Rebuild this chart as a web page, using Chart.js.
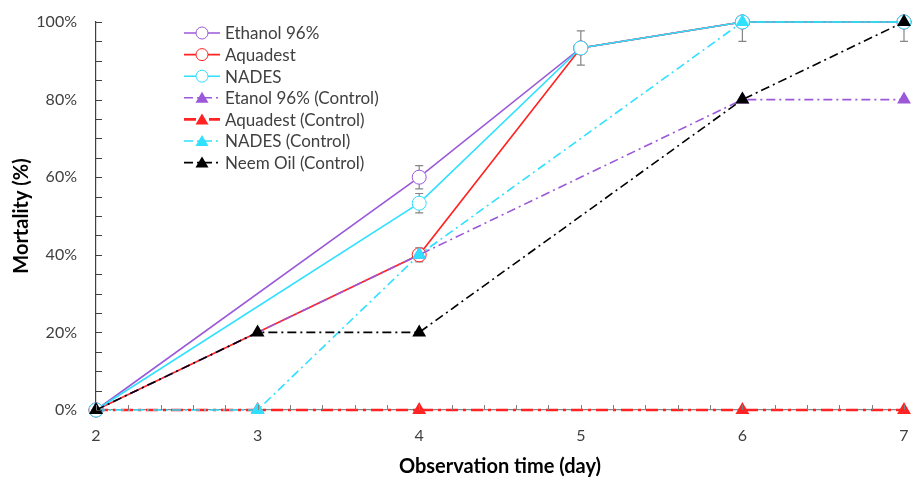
<!DOCTYPE html>
<html lang="en">
<head>
<meta charset="UTF-8">
<title>Mortality over observation time</title>
<script src="https://cdn.jsdelivr.net/npm/chart.js"></script>
<style>
  body { margin: 0; background: #fff; }
  .wrap { width: 912px; height: 479px; }
</style>
</head>
<body>
<div class="wrap"><canvas id="chart"></canvas></div>
<script>
// observation days and mortality (%) per treatment; null = no point that day
const days = [2, 3, 4, 5, 6, 7];
const ethanol = [0, null, 60, 93.3, 100, 100];
const aquadest = [0, null, 40, 93.3, 100, 100];
const nades = [0, null, 53.3, 93.3, 100, 100];
const ethanolCtrl = [0, null, 40, null, 80, 80];
const aquadestCtrl = [0, 0, 0, null, 0, 0];
const nadesCtrl = [0, 0, 40, null, 100, 100];
const neemCtrl = [0, 20, 20, null, 80, 100];
// error bars (± %)
const ethanolErr = [0, null, 3, 4.4, 0, 0];
const aquadestErr = [0, null, 1.8, 0, 0, 0];
const nadesErr = [0, null, 2.5, 0, 5, 5];
const yTicks = [0, 20, 40, 60, 80, 100];

const PURPLE = '#9b59d9', RED = '#ff2323', CYAN = '#2fe0ff';
const FONT = 'Lato, "Open Sans", sans-serif';

function pts(vals) {
    return days.map((d, i) => ({ x: d, y: vals[i] }));
}

function treatment(label, vals, color, err) {
    return {
        label: label, data: pts(vals), err: err,
        borderColor: color, borderWidth: 1.6,
        pointStyle: 'circle', pointRadius: 7, pointBorderWidth: 1,
        pointBackgroundColor: '#fff', pointBorderColor: color
    };
}

function control(label, vals, color, dash, width) {
    return {
        label: label, data: pts(vals),
        borderColor: color, borderWidth: width || 1.6, borderDash: dash,
        pointStyle: 'triangle', pointRadius: 8, pointBorderWidth: 0,
        pointBackgroundColor: color, pointBorderColor: color
    };
}

const datasets = [
    treatment('Ethanol 96%', ethanol, PURPLE, ethanolErr),
    treatment('Aquadest', aquadest, RED, aquadestErr),
    treatment('NADES', nades, CYAN, nadesErr),
    control('Etanol 96% (Control)', ethanolCtrl, PURPLE, [9, 4, 2, 4]),
    control('Aquadest (Control)', aquadestCtrl, RED, [12, 5, 3, 5], 2.6),
    control('NADES (Control)', nadesCtrl, CYAN, [9, 4, 2, 4]),
    control('Neem Oil (Control)', neemCtrl, '#000', [9, 4, 2, 4])
];
// later series drawn on top, like the original
datasets.forEach((d, i) => { d.order = datasets.length - i; });

// error bars, drawn under the markers
const errorBars = {
    id: 'errorBars',
    beforeDatasetsDraw(chart) {
        const { ctx, scales: { x, y }, chartArea } = chart;
        ctx.save();
        ctx.beginPath();
        ctx.rect(chartArea.left, chartArea.top - 2, chartArea.width + 10, chartArea.height);
        ctx.clip();
        ctx.strokeStyle = '#858585';
        ctx.lineWidth = 1.2;
        chart.data.datasets.forEach(ds => {
            if (!ds.err) return;
            ds.err.forEach((e, i) => {
                const v = ds.data[i].y;
                if (!e || v === null) return;
                const px = x.getPixelForValue(days[i]);
                const top = y.getPixelForValue(v + e), bot = y.getPixelForValue(v - e);
                ctx.beginPath();
                ctx.moveTo(px, top); ctx.lineTo(px, bot);
                ctx.moveTo(px - 4, top); ctx.lineTo(px + 4, top);
                ctx.moveTo(px - 4, bot); ctx.lineTo(px + 4, bot);
                ctx.stroke();
            });
        });
        ctx.restore();
    }
};

// inside tick marks (major + minor) on both axes
const innerTicks = {
    id: 'innerTicks',
    afterDraw(chart) {
        const { ctx, scales: { x, y }, chartArea } = chart;
        ctx.save();
        ctx.lineWidth = 1;
        ctx.strokeStyle = '#404040';
        for (let v = 0; v <= 100; v += 5) {
            const py = Math.round(y.getPixelForValue(v)) + 0.5;
            ctx.beginPath();
            ctx.moveTo(chartArea.left, py); ctx.lineTo(chartArea.left + 6, py);
            ctx.stroke();
        }
        ctx.strokeStyle = '#7f7f7f';
        for (let k = 0; k <= 25; k++) {
            const px = Math.round(x.getPixelForValue(2 + k * 0.2)) + 0.5;
            ctx.beginPath();
            ctx.moveTo(px, chartArea.bottom); ctx.lineTo(px, chartArea.bottom - 5);
            ctx.stroke();
        }
        ctx.restore();
    }
};

// legend inside the plot, top-left
const insideLegend = {
    id: 'insideLegend',
    afterDraw(chart) {
        const { ctx } = chart;
        const x0 = 184, y0 = 33, step = 21.6;
        ctx.save();
        ctx.font = '17px ' + FONT;
        ctx.textBaseline = 'middle';
        chart.data.datasets.forEach((ds, i) => {
            const yy = y0 + i * step;
            ctx.strokeStyle = ds.borderColor;
            ctx.lineWidth = ds.borderWidth;
            ctx.setLineDash(ds.borderDash || []);
            ctx.beginPath();
            ctx.moveTo(x0, yy); ctx.lineTo(x0 + 36, yy);
            ctx.stroke();
            ctx.setLineDash([]);
            const mx = x0 + 18;
            if (ds.pointStyle === 'circle') {
                ctx.fillStyle = '#fff';
                ctx.strokeStyle = ds.pointBorderColor;
                ctx.lineWidth = 1;
                ctx.beginPath();
                ctx.arc(mx, yy, 6, 0, Math.PI * 2);
                ctx.fill(); ctx.stroke();
            } else {
                ctx.fillStyle = ds.pointBackgroundColor;
                ctx.beginPath();
                ctx.moveTo(mx, yy - 6);
                ctx.lineTo(mx + 6.5, yy + 5);
                ctx.lineTo(mx - 6.5, yy + 5);
                ctx.closePath();
                ctx.fill();
            }
            ctx.fillStyle = '#404040';
            ctx.fillText(ds.label, x0 + 41, yy + 1);
        });
        ctx.restore();
    }
};

new Chart(document.getElementById('chart'), {
    type: 'line',
    data: { datasets: datasets },
    options: {
        responsive: true,
        maintainAspectRatio: false,
        animation: false,
        spanGaps: true,
        clip: false,
        layout: { padding: { top: 22, right: 5, left: 10, bottom: 0 } },
        plugins: { legend: { display: false }, tooltip: { enabled: false } },
        elements: { line: { tension: 0 } },
        scales: {
            x: {
                type: 'linear', min: 2, max: 7,
                afterFit(s) { s.height = 69; s.paddingLeft = 0; s.paddingRight = 0; },
                grid: { display: false, drawTicks: false },
                border: { display: true, color: '#868686', width: 1.2 },
                ticks: {
                    stepSize: 1, padding: 16, color: '#404040',
                    font: { family: FONT, size: 16 }
                },
                title: {
                    display: true, text: 'Observation time (day)', color: '#000',
                    font: { family: FONT, size: 20, weight: 'bold' }, padding: 0
                }
            },
            y: {
                min: 0, max: 100,
                afterBuildTicks(axis) { axis.ticks = yTicks.map(v => ({ value: v })); },
                afterFit(s) { s.width = 86; s.paddingTop = 0; s.paddingBottom = 0; },
                grid: { display: false, drawTicks: false },
                border: { display: true, color: '#404040', width: 1.2 },
                ticks: {
                    padding: 19, color: '#404040',
                    font: { family: FONT, size: 16 },
                    callback: v => v + '%'
                },
                title: {
                    display: true, text: 'Mortality (%)', color: '#000',
                    font: { family: FONT, size: 20, weight: 'bold' }, padding: 0
                }
            }
        }
    },
    plugins: [errorBars, innerTicks, insideLegend]
});
</script>
</body>
</html>
